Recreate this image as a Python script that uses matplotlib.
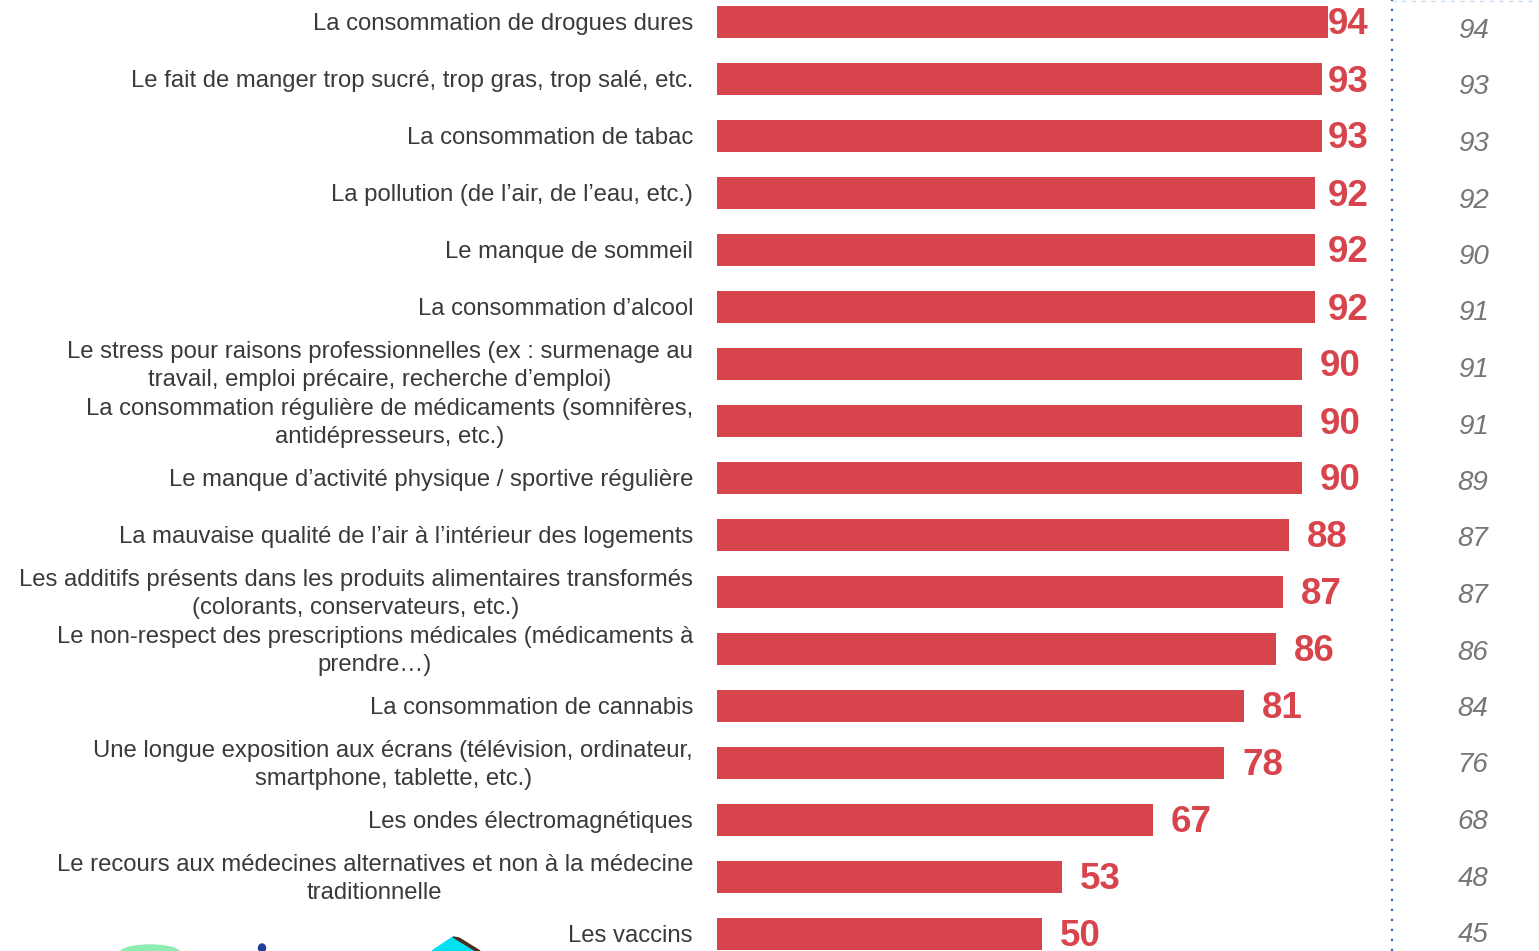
import numpy as np
import matplotlib.pyplot as plt
from matplotlib.patches import Polygon, Ellipse

plt.rcParams['font.family'] = ['Liberation Sans', 'DejaVu Sans']

# risk factors, current wave and previous wave scores
labels = [
    "La consommation de drogues dures",
    "Le fait de manger trop sucré, trop gras, trop salé, etc.",
    "La consommation de tabac",
    "La pollution (de l\u2019air, de l\u2019eau, etc.)",
    "Le manque de sommeil",
    "La consommation d\u2019alcool",
    "Le stress pour raisons professionnelles (ex : surmenage au\ntravail, emploi précaire, recherche d\u2019emploi)",
    "La consommation régulière de médicaments (somnifères,\nantidépresseurs, etc.)",
    "Le manque d\u2019activité physique / sportive régulière",
    "La mauvaise qualité de l\u2019air à l\u2019intérieur des logements",
    "Les additifs présents dans les produits alimentaires transformés\n(colorants, conservateurs, etc.)",
    "Le non-respect des prescriptions médicales (médicaments à\nprendre\u2026)",
    "La consommation de cannabis",
    "Une longue exposition aux écrans (télévision, ordinateur,\nsmartphone, tablette, etc.)",
    "Les ondes électromagnétiques",
    "Le recours aux médecines alternatives et non à la médecine\ntraditionnelle",
    "Les vaccins",
]
values = [94, 93, 93, 92, 92, 92, 90, 90, 90, 88, 87, 86, 81, 78, 67, 53, 50]
previous = [94, 93, 93, 92, 90, 91, 91, 91, 89, 87, 87, 86, 84, 76, 68, 48, 45]

red = '#D8444B'
W, H = 1539, 951
fig = plt.figure(figsize=(W / 100, H / 100), dpi=100)

# main bar axes, bars start at x=717px, 6.5px per point
x0 = 717
ppu = 6.5
ax = fig.add_axes([x0 / W, 0, 1 - x0 / W, 1])
n = len(values)
y = np.arange(n)
ax.barh(y, values, height=0.56, color=red, edgecolor='none')
ax.set_xlim(0, (W - x0) / ppu)
ax.set_ylim((H - 22) / 57, -22 / 57)
ax.axis('off')

# value labels, kept left of the separator line
gap = 18 / ppu
cap = (1369 - x0 - 41) / ppu
for i, v in enumerate(values):
    ax.text(min(v + gap, cap), i + 3 / 57, str(v), ha='left', va='center',
            fontsize=26.5, fontweight='bold', color=red)

# category labels on the left
for i, lab in enumerate(labels):
    ax.text(-24 / ppu, i + 2 / 57, lab, ha='right', va='center', fontsize=17.2,
            color='#3a3a3a', multialignment='center', linespacing=1.38)

# right column with previous wave
ax2 = fig.add_axes([1392 / W, 0, 1 - 1392 / W, 1])
ax2.set_xlim(0, W - 1392)
ax2.set_ylim((H - 31) / 56.5, -31 / 56.5)
ax2.axis('off')
for i, v in enumerate(previous):
    ax2.text(1473 - 1392, i, str(v), ha='center', va='center', fontsize=20,
             fontstyle='italic', color='#767676')

# dotted separator and faint top rule
fig.add_artist(plt.Line2D([1392 / W, 1392 / W], [0, 1], color='#2E64AE',
                          lw=1.6, linestyle=(0, (1, 3.5))))
fig.add_artist(plt.Line2D([1392 / W, 1], [1 - 1 / H, 1 - 1 / H], color='#C8DCF0',
                          lw=1.0, linestyle=(0, (3, 4))))

# logo fragments peeking in at the bottom
fig.add_artist(Ellipse((150 / W, -2 / H), 60 / W, 16 / H, color='#8EEDB0',
                       transform=fig.transFigure))
fig.add_artist(Ellipse((262 / W, 3 / H), 7 / W, 8 / H, color='#1F3F9A',
                       transform=fig.transFigure))
fig.add_artist(Polygon([[432 / W, 0], [453 / W, 14 / H], [476 / W, 0]],
                       closed=True, color='#00E0F5', transform=fig.transFigure))
fig.add_artist(Polygon([[453 / W, 14 / H], [459 / W, 13 / H], [480 / W, 0], [476 / W, 0]],
                       closed=True, color='#4A2A1A', transform=fig.transFigure))

fig.savefig('out.png', dpi=100, facecolor='white')
